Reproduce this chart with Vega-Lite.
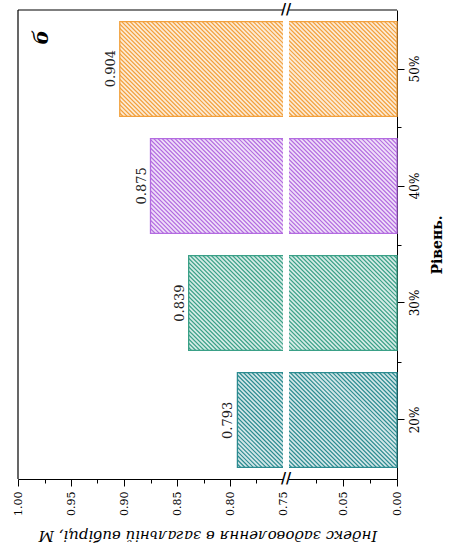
{
  "$schema": "https://vega.github.io/schema/vega-lite/v6.json",
  "width": 379,
  "height": 469,
  "autosize": {"type": "none"},
  "padding": {"left": 18, "top": 10, "right": 62, "bottom": 79},
  "background": "white",
  "config": {
    "view": {"stroke": null},
    "font": "DejaVu Serif",
    "axis": {"domainColor": "black", "tickColor": "black", "labelColor": "black", "titleColor": "black", "grid": false, "domainWidth": 1, "tickWidth": 1}
  },
  "data": {
    "values": [
      {"level": "20%", "index": 0.793},
      {"level": "30%", "index": 0.839},
      {"level": "40%", "index": 0.875},
      {"level": "50%", "index": 0.904}
    ]
  },
  "resolve": {"scale": {"y": "independent"}, "axis": {"y": "independent", "x": "independent"}},
  "layer": [
    {
      "mark": {"type": "bar", "strokeWidth": 0},
      "encoding": {
        "y": {
          "field": "level", "type": "nominal",
          "sort": ["50%", "40%", "30%", "20%"],
          "scale": {"domain": ["50%", "40%", "30%", "20%"], "paddingInner": 0.19, "paddingOuter": 0.1},
          "axis": {
            "orient": "right", "tickSize": 7, "labelAngle": 270, "labelAlign": "center", "labelBaseline": "top",
            "labelPadding": 5, "labelFontSize": 12, "labelFont": "DejaVu Serif",
            "title": "Рівень.", "titleAngle": 270, "titleBaseline": "top", "titleFontSize": 14,
            "titleFontWeight": "bold", "titlePadding": 10
          }
        },
        "x": {
          "field": "index", "type": "quantitative",
          "scale": {"domain": [0, 0.1, 0.75, 1], "range": [379, 271, 265, 0], "nice": false, "zero": false},
          "axis": {
            "orient": "bottom",
            "values": [0, 0.025, 0.05, 0.075, 0.75, 0.775, 0.8, 0.825, 0.85, 0.875, 0.9, 0.925, 0.95, 0.975, 1],
            "labelExpr": "indexof([0, 0.05, 0.75, 0.8, 0.85, 0.9, 0.95, 1], datum.value) >= 0 ? format(datum.value, '.2f') : ''",
            "tickSize": {"condition": {"test": "indexof([0, 0.05, 0.75, 0.8, 0.85, 0.9, 0.95, 1], datum.value) >= 0", "value": 7}, "value": 4},
            "labelAngle": 270, "labelAlign": "right", "labelBaseline": "middle", "labelFontSize": 11,
            "labelPadding": 5, "labelOverlap": false, "labelFlush": false,
            "title": "Індекс задоволення в загальній вибірці, M",
            "titleAngle": 180, "titleBaseline": "bottom", "titleFontStyle": "italic", "titleFontWeight": "normal",
            "titleFontSize": 15, "titlePadding": 12
          }
        },
        "color": {
          "field": "level", "type": "nominal",
          "scale": {"domain": ["20%", "30%", "40%", "50%"], "range": ["#2b8b90", "#3aa087", "#b36be0", "#f2a03c"]},
          "legend": null
        }
      }
    },
    {
      "data": {"values": [{}]},
      "mark": {"type": "rule", "clip": true, "stroke": "white", "strokeWidth": 900, "strokeOpacity": 0.78, "strokeDash": [1.8, 1.2], "strokeCap": "butt"},
      "encoding": {
        "x": {"datum": 1.0472, "type": "quantitative", "axis": null},
        "x2": {"datum": -0.2509},
        "y": {"datum": -0.1066, "type": "quantitative", "scale": {"domain": [0, 1], "nice": false, "zero": false}, "axis": null},
        "y2": {"datum": 1.386}
      }
    },
    {
      "mark": {"type": "bar", "filled": false, "strokeWidth": 1.3},
      "encoding": {
        "y": {
          "field": "level", "type": "nominal",
          "sort": ["50%", "40%", "30%", "20%"],
          "scale": {"domain": ["50%", "40%", "30%", "20%"], "paddingInner": 0.19, "paddingOuter": 0.1},
          "axis": null
        },
        "x": {"field": "index", "type": "quantitative", "axis": null},
        "color": {
          "field": "level", "type": "nominal",
          "scale": {"domain": ["20%", "30%", "40%", "50%"], "range": ["#257a7e", "#2c8a6f", "#9c55c9", "#e48a1c"]},
          "legend": null
        }
      }
    },
    {
      "data": {"values": [{}]},
      "mark": {"type": "rule", "stroke": "black", "strokeWidth": 1.2},
      "encoding": {
        "x": {"datum": 1, "type": "quantitative", "axis": null},
        "y": {"datum": 0, "type": "quantitative", "scale": {"domain": [0, 1], "nice": false, "zero": false}, "axis": null},
        "y2": {"datum": 1}
      }
    },
    {
      "data": {"values": [{}]},
      "mark": {"type": "rule", "stroke": "black", "strokeWidth": 1.2},
      "encoding": {
        "x": {"datum": 0, "type": "quantitative", "axis": null},
        "x2": {"datum": 1},
        "y": {"datum": 1, "type": "quantitative", "scale": {"domain": [0, 1], "nice": false, "zero": false}, "axis": null}
      }
    },
    {
      "data": {"values": [{}]},
      "mark": {"type": "rect", "fill": "white"},
      "encoding": {
        "x": {"datum": 0.1, "type": "quantitative", "axis": null},
        "x2": {"datum": 0.75},
        "y": {
          "datum": -0.025, "type": "quantitative",
          "scale": {"domain": [0, 1], "nice": false, "zero": false},
          "axis": {"orient": "right", "values": [0.25, 0.5, 0.75], "labels": false, "domain": false, "ticks": true, "tickSize": 4, "title": null, "grid": false}
        },
        "y2": {"datum": 1.025}
      }
    },
    {
      "data": {"values": [{}]},
      "mark": {"type": "text", "text": "//", "fontSize": 14, "fontWeight": "bold", "align": "center", "baseline": "middle", "color": "black"},
      "encoding": {
        "x": {"datum": 0.425, "type": "quantitative", "axis": null},
        "y": {"datum": 0, "type": "quantitative", "scale": {"domain": [0, 1], "nice": false, "zero": false}, "axis": null}
      }
    },
    {
      "data": {"values": [{}]},
      "mark": {"type": "text", "text": "//", "fontSize": 14, "fontWeight": "bold", "align": "center", "baseline": "middle", "color": "black"},
      "encoding": {
        "x": {"datum": 0.425, "type": "quantitative", "axis": null},
        "y": {"datum": 1, "type": "quantitative", "scale": {"domain": [0, 1], "nice": false, "zero": false}, "axis": null}
      }
    },
    {
      "mark": {"type": "text", "angle": 270, "align": "center", "baseline": "bottom", "dy": -2, "fontSize": 13, "color": "#222222"},
      "encoding": {
        "y": {
          "field": "level", "type": "nominal",
          "sort": ["50%", "40%", "30%", "20%"],
          "scale": {"domain": ["50%", "40%", "30%", "20%"], "paddingInner": 0.19, "paddingOuter": 0.1},
          "axis": null
        },
        "x": {"field": "index", "type": "quantitative", "axis": null},
        "text": {"field": "index", "type": "quantitative", "format": ".3f"}
      }
    },
    {
      "data": {"values": [{}]},
      "mark": {"type": "text", "text": "б", "angle": 270, "align": "center", "baseline": "middle", "fontSize": 20, "fontWeight": "bold", "fontStyle": "italic", "color": "black"},
      "encoding": {
        "x": {"datum": 0.977, "type": "quantitative", "axis": null},
        "y": {"datum": 0.942, "type": "quantitative", "scale": {"domain": [0, 1], "nice": false, "zero": false}, "axis": null}
      }
    }
  ]
}
